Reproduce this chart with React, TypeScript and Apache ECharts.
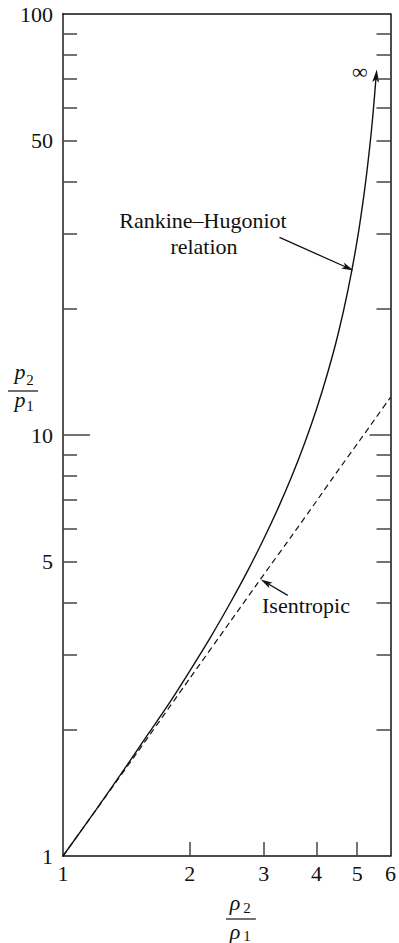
import React, { useEffect, useRef } from "react";
import * as echarts from "echarts";

// Rankine–Hugoniot relation, gamma = 1.4: density ratio vs pressure ratio
const rhDensity = [1, 1.2, 1.4, 1.6, 1.8, 2.0, 2.25, 2.5, 2.75, 3.0, 3.25, 3.5, 3.75, 4.0, 4.25, 4.5, 4.75, 5.0, 5.2, 5.35, 5.45, 5.55];
const rhPressure = [1, 1.29, 1.61, 1.96, 2.33, 2.75, 3.33, 4.0, 4.77, 5.67, 6.73, 8.0, 9.56, 11.5, 14.0, 17.3, 22.0, 29.0, 37.8, 47.9, 57.6, 71.8];

// Isentropic compression
const isDensity = [1, 1.5, 2, 2.5, 3, 3.5, 4, 4.5, 5, 5.5, 6];
const isPressure = [1, 1.76, 2.64, 3.61, 4.66, 5.77, 6.96, 8.23, 9.52, 10.88, 12.29];

// Axis ticks and labels
const yMinorTicks = [2, 3, 4, 5, 6, 7, 8, 9, 20, 30, 40, 50, 60, 70, 80, 90];
const yMajorTicks = [10];
const yLabels = [1, 5, 10, 50, 100];
const xTicks = [2, 3, 4, 5];
const xLabels = [1, 2, 3, 4, 5, 6];

// Annotation anchors (data space)
const rhPointer = [4.9, 24.6];
const isPointer = [2.95, 4.54];

const FONT = "'Liberation Serif', 'Times New Roman', serif";
const INK = "#111";
const AXIS = "#444";

export default function App() {
  const ref = useRef<HTMLDivElement>(null);

  useEffect(() => {
    const el = ref.current;
    if (!el) return;
    const chart = echarts.init(el, null, { renderer: "svg" });

    const yBase = (extra: any) => ({
      type: "log",
      logBase: 10,
      min: 1,
      max: 100,
      splitLine: { show: false },
      axisLabel: { show: false },
      axisLine: { show: false },
      ...extra,
    });

    const option: any = {
      animation: false,
      backgroundColor: "#fff",
      grid: { left: 63, right: 7, top: 14, bottom: 87, containLabel: false },
      xAxis: [
        {
          type: "log",
          logBase: 10,
          min: 1,
          max: 6,
          position: "bottom",
          splitLine: { show: false },
          axisLine: { show: true, lineStyle: { color: INK, width: 1.5 } },
          axisTick: {
            show: true,
            inside: true,
            length: 14,
            customValues: xTicks,
            lineStyle: { color: AXIS, width: 1.5 },
          },
          axisLabel: {
            show: true,
            customValues: xLabels,
            margin: 6,
            fontFamily: FONT,
            fontSize: 22,
            color: INK,
          },
        },
        {
          type: "log",
          logBase: 10,
          min: 1,
          max: 6,
          position: "top",
          splitLine: { show: false },
          axisLine: { show: true, lineStyle: { color: INK, width: 1.5 } },
          axisTick: { show: false },
          axisLabel: { show: false },
        },
      ],
      yAxis: [
        yBase({
          position: "left",
          axisLine: { show: true, lineStyle: { color: "#555", width: 2 } },
          axisTick: {
            show: true,
            inside: true,
            length: 14,
            customValues: yMinorTicks,
            lineStyle: { color: AXIS, width: 1.5 },
          },
          axisLabel: {
            show: true,
            customValues: yLabels,
            margin: 10,
            fontFamily: FONT,
            fontSize: 22,
            color: INK,
          },
        }),
        yBase({
          position: "left",
          axisTick: {
            show: true,
            inside: true,
            length: 27,
            customValues: yMajorTicks,
            lineStyle: { color: AXIS, width: 1.5 },
          },
        }),
        yBase({
          position: "right",
          axisLine: { show: true, lineStyle: { color: INK, width: 1.5 } },
          axisTick: {
            show: true,
            inside: true,
            length: 14,
            customValues: yMinorTicks,
            lineStyle: { color: AXIS, width: 1.5 },
          },
        }),
        yBase({
          position: "right",
          axisTick: {
            show: true,
            inside: true,
            length: 21,
            customValues: yMajorTicks,
            lineStyle: { color: AXIS, width: 1.5 },
          },
        }),
      ],
      series: [
        {
          name: "Rankine–Hugoniot relation",
          type: "line",
          xAxisIndex: 0,
          yAxisIndex: 0,
          data: rhDensity.map((x, i) => [x, rhPressure[i]]),
          showSymbol: false,
          smooth: 0.25,
          lineStyle: { color: INK, width: 1.4 },
          clip: true,
        },
        {
          name: "Isentropic",
          type: "line",
          xAxisIndex: 0,
          yAxisIndex: 0,
          data: isDensity.map((x, i) => [x, isPressure[i]]),
          showSymbol: false,
          smooth: 0.2,
          lineStyle: { color: INK, width: 1.2, type: [6, 4] },
          clip: true,
        },
      ],
    };
    chart.setOption(option);

    const toPx = (p: number[]) =>
      chart.convertToPixel({ xAxisIndex: 0, yAxisIndex: 0 }, p) as number[];

    const arrowHead = (tip: number[], from: number[], len = 12, half = 3.3) => {
      const dx = tip[0] - from[0];
      const dy = tip[1] - from[1];
      const d = Math.hypot(dx, dy) || 1;
      const ux = dx / d;
      const uy = dy / d;
      const nx = -uy;
      const ny = ux;
      const bx = tip[0] - ux * len;
      const by = tip[1] - uy * len;
      const notch = [tip[0] - ux * len * 0.75, tip[1] - uy * len * 0.75];
      return {
        notch,
        shape: {
          type: "polygon",
          shape: {
            points: [
              tip,
              [bx + nx * half, by + ny * half],
              notch,
              [bx - nx * half, by - ny * half],
            ],
          },
          style: { fill: INK },
          silent: true,
        },
      };
    };

    const pointer = (tail: number[], tip: number[]) => {
      const h = arrowHead(tip, tail, 12, 3.3);
      return [
        {
          type: "line",
          shape: { x1: tail[0], y1: tail[1], x2: h.notch[0], y2: h.notch[1] },
          style: { stroke: INK, lineWidth: 1.3 },
          silent: true,
        },
        h.shape,
      ];
    };

    const txt = (x: number, y: number, text: string, extra: any = {}) => ({
      type: "text",
      x,
      y,
      silent: true,
      style: {
        text,
        fontFamily: FONT,
        fontSize: 22,
        fill: INK,
        align: "center",
        verticalAlign: "middle",
        ...extra,
      },
    });

    // Arrowhead at the open end of the Rankine–Hugoniot curve
    const n = rhDensity.length;
    const endPx = toPx([rhDensity[n - 1], rhPressure[n - 1]]);
    const prevPx = toPx([rhDensity[n - 2], rhPressure[n - 2]]);
    const endTip = [endPx[0] + 0.5, endPx[1] - 5];
    const endHead = arrowHead(endTip, prevPx, 13, 3.5);

    const rhTip = toPx(rhPointer);
    const isTip = toPx(isPointer);

    const graphic: any[] = [
      {
        type: "line",
        shape: { x1: endPx[0], y1: endPx[1], x2: endHead.notch[0], y2: endHead.notch[1] },
        style: { stroke: INK, lineWidth: 1.4 },
        silent: true,
      },
      endHead.shape,
      txt(endTip[0] - 17, endTip[1] + 2, "∞"),
      txt(203, 220, "Rankine–Hugoniot"),
      txt(204, 246, "relation"),
      ...pointer([rhTip[0] - 74, rhTip[1] - 33], rhTip),
      txt(262, 605, "Isentropic", { align: "left" }),
      ...pointer([isTip[0] + 27, isTip[1] + 16], isTip),
      // y axis name: p2 / p1
      txt(20, 371, "p", { fontStyle: "italic" }),
      txt(30, 380, "2", { fontSize: 15 }),
      {
        type: "line",
        shape: { x1: 8, y1: 391, x2: 38, y2: 391 },
        style: { stroke: INK, lineWidth: 1.2 },
        silent: true,
      },
      txt(20, 399, "p", { fontStyle: "italic" }),
      txt(30, 406, "1", { fontSize: 15 }),
      // x axis name: ρ2 / ρ1
      txt(235, 902, "ρ", { fontStyle: "italic" }),
      txt(247, 908, "2", { fontSize: 15 }),
      {
        type: "line",
        shape: { x1: 226, y1: 919, x2: 256, y2: 919 },
        style: { stroke: INK, lineWidth: 1.2 },
        silent: true,
      },
      txt(235, 931, "ρ", { fontStyle: "italic" }),
      txt(247, 936, "1", { fontSize: 15 }),
    ];
    chart.setOption({ graphic });

    return () => chart.dispose();
  }, []);

  return (
    <div
      ref={ref}
      style={{ position: "absolute", left: 0, top: 0, width: 399, height: 943 }}
    />
  );
}
